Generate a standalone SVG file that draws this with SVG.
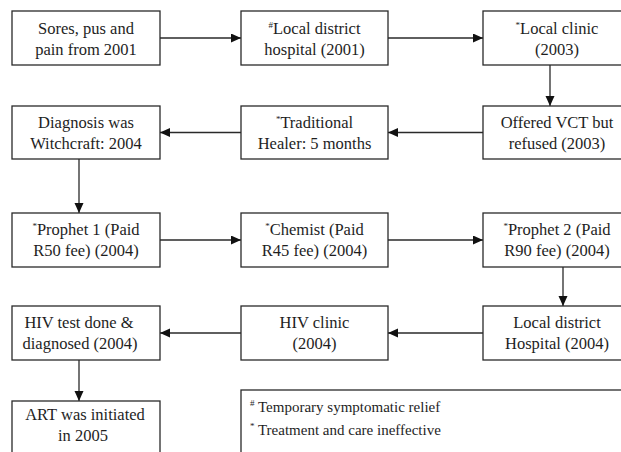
<svg xmlns="http://www.w3.org/2000/svg" width="621" height="452" viewBox="0 0 621 452">
<defs>
<style>
.box{fill:#fff;stroke:#2a2a2a;stroke-width:1.3}
.t{font-family:"Liberation Serif","Times New Roman",serif;font-size:16.5px;fill:#1e1e1e;text-anchor:middle}
.lg{font-family:"Liberation Serif","Times New Roman",serif;font-size:15px;fill:#1e1e1e}
.sup{font-size:9px}
.c{stroke:#2a2a2a;stroke-width:1.3;fill:none;marker-end:url(#ah)}
</style>
<marker id="ah" markerUnits="userSpaceOnUse" markerWidth="10" markerHeight="10" refX="10" refY="4.5" orient="auto">
<path d="M0,0 L10,4.5 L0,9 z" fill="#111"/>
</marker>
</defs>
<rect width="621" height="452" fill="#fff"/>
<g id="connectors">
<line class="c" x1="160" y1="38" x2="241" y2="38"/>
<line class="c" x1="388" y1="38" x2="483" y2="38"/>
<line class="c" x1="550" y1="65" x2="550" y2="106"/>
<line class="c" x1="483" y1="132.5" x2="388" y2="132.5"/>
<line class="c" x1="241" y1="132.5" x2="160" y2="132.5"/>
<line class="c" x1="79" y1="159" x2="79" y2="213"/>
<line class="c" x1="160" y1="240" x2="241" y2="240"/>
<line class="c" x1="388" y1="240" x2="483" y2="240"/>
<line class="c" x1="563" y1="267" x2="563" y2="306"/>
<line class="c" x1="483" y1="333" x2="388" y2="333"/>
<line class="c" x1="241" y1="333" x2="160" y2="333"/>
<line class="c" x1="79" y1="360" x2="79" y2="401"/>
</g>
<g id="n1"><rect class="box" x="12" y="11" width="148" height="54"/>
<text class="t" x="86" y="34">Sores, pus and</text><text class="t" x="86" y="55">pain from 2001</text></g>
<g id="n2"><rect class="box" x="241" y="11" width="147" height="54"/>
<text class="t" x="314.5" y="34"><tspan class="sup" dy="-6">#</tspan><tspan dy="6">Local district</tspan></text><text class="t" x="314.5" y="55">hospital (2001)</text></g>
<g id="n3"><rect class="box" x="483" y="11" width="145" height="54"/>
<text class="t" x="557" y="34"><tspan class="sup" dy="-6">*</tspan><tspan dy="6">Local clinic</tspan></text><text class="t" x="557" y="55">(2003)</text></g>
<g id="n4"><rect class="box" x="483" y="106" width="145" height="53"/>
<text class="t" x="557" y="128">Offered VCT but</text><text class="t" x="557" y="149">refused (2003)</text></g>
<g id="n5"><rect class="box" x="241" y="106" width="147" height="53"/>
<text class="t" x="314.5" y="128"><tspan class="sup" dy="-6">*</tspan><tspan dy="6">Traditional</tspan></text><text class="t" x="314.5" y="149">Healer: 5 months</text></g>
<g id="n6"><rect class="box" x="12" y="106" width="148" height="53"/>
<text class="t" x="86" y="128">Diagnosis was</text><text class="t" x="86" y="149">Witchcraft: 2004</text></g>
<g id="n7"><rect class="box" x="12" y="213" width="148" height="54"/>
<text class="t" x="86" y="235"><tspan class="sup" dy="-6">*</tspan><tspan dy="6">Prophet 1 (Paid</tspan></text><text class="t" x="86" y="256">R50 fee) (2004)</text></g>
<g id="n8"><rect class="box" x="241" y="213" width="147" height="54"/>
<text class="t" x="314.5" y="235"><tspan class="sup" dy="-6">*</tspan><tspan dy="6">Chemist (Paid</tspan></text><text class="t" x="314.5" y="256">R45 fee) (2004)</text></g>
<g id="n9"><rect class="box" x="483" y="213" width="145" height="54"/>
<text class="t" x="557" y="235"><tspan class="sup" dy="-6">*</tspan><tspan dy="6">Prophet 2 (Paid</tspan></text><text class="t" x="557" y="256">R90 fee) (2004)</text></g>
<g id="n10"><rect class="box" x="483" y="306" width="145" height="54"/>
<text class="t" x="557" y="328">Local district</text><text class="t" x="557" y="349">Hospital (2004)</text></g>
<g id="n11"><rect class="box" x="241" y="306" width="147" height="54"/>
<text class="t" x="314.5" y="328">HIV clinic</text><text class="t" x="314.5" y="349">(2004)</text></g>
<g id="n12"><rect class="box" x="12" y="306" width="148" height="54"/>
<text class="t" x="79" y="328">HIV test done &amp;</text><text class="t" x="80" y="349">diagnosed (2004)</text></g>
<g id="n13"><rect class="box" x="12" y="401" width="148" height="60"/>
<text class="t" x="85" y="420">ART was initiated</text><text class="t" x="83" y="441">in 2005</text></g>
<g id="legend"><rect class="box" x="241" y="390" width="390" height="70"/>
<text class="lg" x="250" y="412"><tspan class="sup" dy="-6">#</tspan><tspan dy="6"> Temporary symptomatic relief</tspan></text>
<text class="lg" x="250" y="435"><tspan class="sup" dy="-6">*</tspan><tspan dy="6"> Treatment and care ineffective</tspan></text></g>
</svg>
